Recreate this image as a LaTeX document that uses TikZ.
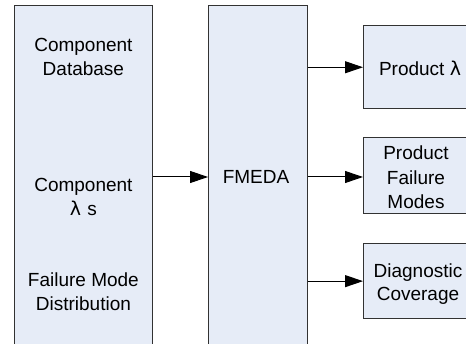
\documentclass[tikz,border=0pt]{standalone}
\usepackage{fontspec}
\setmainfont{Liberation Sans}
\newfontfamily\symfont{DejaVu Sans}
\usetikzlibrary{arrows.meta}
\definecolor{boxfill}{RGB}{230,236,247}
\definecolor{linec}{RGB}{50,50,50}
\tikzset{
  blockbox/.style={draw=linec, fill=boxfill, line width=1pt, inner sep=0pt, outer sep=0pt, rectangle},
  lbl/.style={anchor=base, inner sep=0pt, font=\fontsize{19}{24}\selectfont, text=black},
  flow/.style={draw=black, line width=1pt, -{Triangle[length=18pt,width=12pt]}}
}
\begin{document}
\begin{tikzpicture}[x=1pt,y=-1pt]
\useasboundingbox (0,0) rectangle (466,344);
\begin{scope}
\clip (0,0) rectangle (466,344);
% boxes
\node[blockbox, minimum width=138.7pt, minimum height=343.4pt] (src) at (83.4,177) {};
\node[blockbox, minimum width=99.7pt, minimum height=343.4pt] (fmeda) at (257.9,177) {};
\node[blockbox, minimum width=110pt, minimum height=83.5pt] (pl) at (418,67.25) {};
\node[blockbox, minimum width=110pt, minimum height=76pt] (pfm) at (418,175.3) {};
\node[blockbox, minimum width=110pt, minimum height=74.3pt] (dc) at (418,281.15) {};
% labels
\node[lbl] (t1a) at (83.4,51.7) {Component};
\node[lbl] (t1b) at (83.4,75.7) {Database};
\node[lbl] (t2a) at (83.4,192) {Component};
\node[lbl] (t2b) at (83.4,216) {\symfont λ\kern1pt\rmfamily\ s};
\node[lbl] (t3a) at (83.4,287) {Failure Mode};
\node[lbl] (t3b) at (83.4,311) {Distribution};
\node[lbl] (tf) at (256,184) {FMEDA};
\node[lbl] (tp) at (420,75.5) {Product {\symfont λ}};
\node[lbl] (tm1) at (416,160) {Product};
\node[lbl] (tm2) at (416,184.5) {Failure};
\node[lbl] (tm3) at (416,209) {Modes};
\node[lbl] (td1) at (418,278) {Diagnostic};
\node[lbl] (td2) at (418,301) {Coverage};
% connectors
\draw[flow] (src.east) -- (fmeda.west);
\draw[flow] (fmeda.east |- pl.west) -- (pl.west);
\draw[flow] (fmeda.east) -- (pfm.west |- fmeda.east);
\draw[flow] (fmeda.east |- dc.west) -- (dc.west);
\end{scope}
\end{tikzpicture}
\end{document}
